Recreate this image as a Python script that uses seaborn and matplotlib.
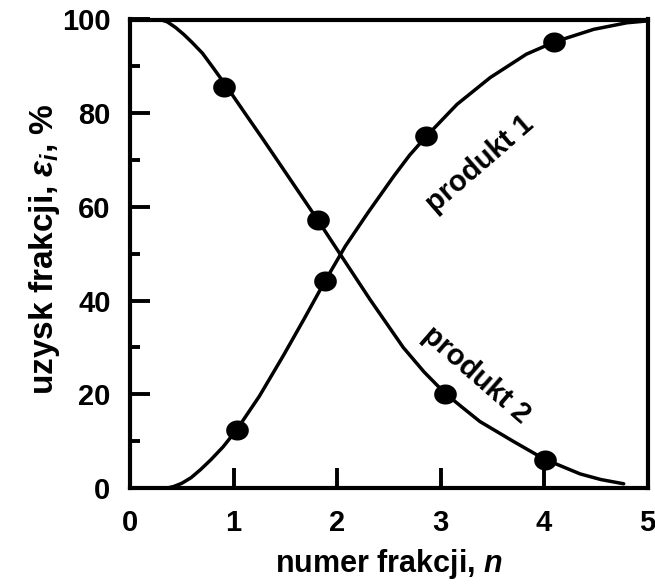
import numpy as np
import pandas as pd
import matplotlib
matplotlib.use("Agg")
import matplotlib.pyplot as plt
from matplotlib.path import Path
from matplotlib.ticker import FixedLocator
import seaborn as sns

# Fitted yield curves: fraction number n vs. yield of the fraction (%)
curve1_n = [0.36, 0.42, 0.50, 0.59, 0.68, 0.78, 0.90, 1.03, 1.25, 1.48, 1.68,
            1.88, 2.08, 2.30, 2.55, 2.70, 2.86, 3.16, 3.48, 3.83, 4.10, 4.48,
            4.80, 5.00]
curve1_y = [0.0, 0.3, 1.0, 2.2, 3.9, 6.0, 8.8, 12.4, 19.6, 28.2, 36.0,
            44.0, 51.6, 58.8, 66.6, 71.0, 75.0, 81.9, 87.6, 92.6, 95.2, 97.9,
            99.3, 99.7]

curve2_n = [0.29, 0.36, 0.44, 0.52, 0.60, 0.70, 0.80, 0.93, 1.12, 1.28, 1.44,
            1.63, 1.82, 2.01, 2.32, 2.64, 2.84, 3.04, 3.20, 3.38, 3.70, 4.00,
            4.35, 4.55, 4.77]
curve2_y = [100.0, 99.5, 98.3, 96.8, 95.1, 92.8, 89.8, 85.8, 79.7, 74.6, 69.4,
            63.2, 57.0, 50.6, 40.2, 30.0, 24.8, 20.3, 17.4, 14.2, 10.0, 6.2,
            3.0, 1.8, 0.9]

# Measured yields
pts1_n = [1.03, 1.88, 2.86, 4.10]
pts1_y = [12.4, 44.2, 75.2, 95.1]
pts2_n = [0.91, 1.82, 3.04, 4.01]
pts2_y = [85.6, 57.3, 20.0, 6.0]

x_ticks = [0, 1, 2, 3, 4, 5]
y_ticks = [0, 20, 40, 60, 80, 100]
y_minor = [10, 30, 50, 70, 90]

sns.set_style("ticks")
plt.rcParams["font.family"] = ["Liberation Sans", "DejaVu Sans"]
plt.rcParams["font.weight"] = "bold"
plt.rcParams["text.color"] = "black"
plt.rcParams["axes.labelcolor"] = "black"
plt.rcParams["xtick.color"] = "black"
plt.rcParams["ytick.color"] = "black"
plt.rcParams["mathtext.fontset"] = "custom"
plt.rcParams["mathtext.rm"] = "Liberation Sans:bold"
plt.rcParams["mathtext.bf"] = "Liberation Sans:bold"
plt.rcParams["mathtext.it"] = "Liberation Sans:italic:bold"

curves = pd.DataFrame({
    "n": curve1_n + curve2_n,
    "y": curve1_y + curve2_y,
    "produkt": ["1"] * len(curve1_n) + ["2"] * len(curve2_n),
})
points = pd.DataFrame({
    "n": pts1_n + pts2_n,
    "y": pts1_y + pts2_y,
})

fig = plt.figure(figsize=(6.55, 5.86), dpi=100)
ax = fig.add_axes([130 / 655, 1 - 488 / 586, 517.5 / 655, 468.5 / 586])

sns.lineplot(data=curves, x="n", y="y", hue="produkt", palette=["black", "black"],
             sort=False, estimator=None, linewidth=2.5, legend=False, ax=ax)

# slightly wide filled dots
t = np.linspace(0, 2 * np.pi, 64)
dot = Path(np.column_stack([1.13 * np.cos(t), np.sin(t)]), closed=True)
sns.scatterplot(data=points, x="n", y="y", marker=dot, s=266, color="black",
                edgecolor="black", linewidth=0, legend=False, zorder=3, ax=ax)

ax.set_xlim(0, 5)
ax.set_ylim(0, 100)
ax.xaxis.set_major_locator(FixedLocator(x_ticks))
ax.yaxis.set_major_locator(FixedLocator(y_ticks))
ax.yaxis.set_minor_locator(FixedLocator(y_minor))
ax.set_xticklabels([str(v) for v in x_ticks])
ax.set_yticklabels([str(v) for v in y_ticks])

ax.tick_params(axis="both", which="major", direction="in", length=14.5, width=2.8,
               labelsize=21, color="black", labelcolor="black")
ax.tick_params(axis="x", which="major", pad=15)
ax.tick_params(axis="y", which="major", pad=14)
ax.tick_params(axis="y", which="minor", direction="in", length=7.5, width=2.8,
               color="black")
ax.tick_params(axis="x", which="minor", length=0)

for side in ["left", "right", "top", "bottom"]:
    ax.spines[side].set_visible(True)
    ax.spines[side].set_linewidth(3.0)
    ax.spines[side].set_color("black")

ax.set_xlabel(r"numer frakcji, $n$", fontsize=22, fontweight="bold", color="black")
ax.set_ylabel(r"uzysk frakcji, $\varepsilon_i$, %", fontsize=24, fontweight="bold",
              color="black")
ax.xaxis.set_label_coords(0.5, -0.126)
ax.yaxis.set_label_coords(-0.132, 0.51)

ax.text(3.38, 69.2, "produkt 1", rotation=41, ha="center", va="center",
        fontsize=21, fontweight="bold", color="black", rotation_mode="anchor")
ax.text(3.35, 24.1, "produkt 2", rotation=-41, ha="center", va="center",
        fontsize=21, fontweight="bold", color="black", rotation_mode="anchor")

fig.savefig("out.png", dpi=100)
